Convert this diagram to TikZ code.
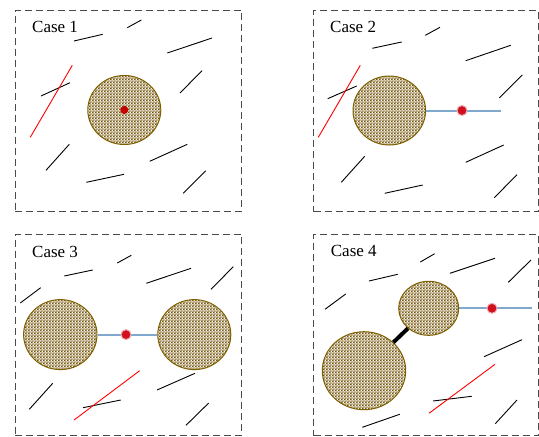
\documentclass[tikz,border=0pt]{standalone}
\usepackage{fontspec}
\setmainfont{Liberation Serif}
\usetikzlibrary{shapes.geometric,patterns}
\definecolor{grainbrown}{HTML}{76560C}
\definecolor{grainedge}{HTML}{7F6000}
\definecolor{bondblue}{HTML}{7FA8CC}
\definecolor{dotred}{HTML}{D0101E}
\definecolor{boxgray}{HTML}{4A4A4A}
\pgfdeclarepatternformonly{minibrick}{\pgfpointorigin}{\pgfpoint{3.2pt}{2.8pt}}{\pgfpoint{3.2pt}{2.8pt}}{%
  \pgfpathrectangle{\pgfpoint{0pt}{0pt}}{\pgfpoint{2.0pt}{1.3pt}}%
  \pgfpathrectangle{\pgfpoint{1.6pt}{1.4pt}}{\pgfpoint{1.6pt}{1.3pt}}%
  \pgfpathrectangle{\pgfpoint{0pt}{1.4pt}}{\pgfpoint{0.4pt}{1.3pt}}%
  \pgfusepath{fill}}
\tikzset{
  casebox/.style={draw=boxgray, line width=1.2pt, dash pattern=on 7pt off 4pt},
  caselabel/.style={anchor=west, inner sep=0pt, font=\fontsize{17}{17}\selectfont},
  crack/.style={draw=black, line width=0.9pt},
  redcrack/.style={draw=red, line width=0.9pt},
  grain/.style={ellipse, draw=grainedge, line width=1pt, pattern=minibrick, pattern color=grainbrown, inner sep=0pt},
  bond/.style={draw=bondblue, line width=2pt},
  reddot/.style={circle, fill=dotred, draw=dotred!35, line width=1pt, inner sep=0pt, minimum size=10pt},
  thickbar/.style={draw=black, line width=4pt}
}
\begin{document}
\begin{tikzpicture}[x=1pt,y=-1pt]
\useasboundingbox (0,0) rectangle (539,437);
% ---------- Case 1 ----------
\node[casebox, minimum width=226.5pt, minimum height=201.5pt, anchor=north west, inner sep=0pt] (b1) at (14.5,9.5) {};
\node[caselabel] (t1) at (32,26.5) {Case 1};
\draw[crack] (127.3,27.7) -- (141.3,20);
\draw[crack] (74,41) -- (102.7,34.3);
\draw[crack] (167.3,53) -- (212,38);
\draw[crack] (41,96) -- (70,82.7);
\draw[crack] (180,93) -- (202,70.7);
\draw[crack] (46,170.3) -- (69.3,144.3);
\draw[crack] (149.7,161.3) -- (187.3,144.3);
\draw[crack] (86.3,182.3) -- (124,174.3);
\draw[crack] (183.3,193.3) -- (205.7,170.7);
\draw[redcrack] (30.3,137.3) -- (72.3,65.3);
\node[grain, minimum width=73pt, minimum height=69pt] (g1) at (124.3,110) {};
\node[circle, fill=red!78!black, inner sep=0pt, minimum size=8pt] (d1) at (g1.center) {};
% ---------- Case 2 ----------
\node[casebox, minimum width=225pt, minimum height=201.5pt, anchor=north west, inner sep=0pt] (b2) at (313,9.5) {};
\node[caselabel] (t2) at (330,26.5) {Case 2};
\draw[crack] (425.3,35.3) -- (440,27.3);
\draw[crack] (372.3,48.3) -- (401.7,42);
\draw[crack] (465.7,60.7) -- (510.7,45.3);
\draw[crack] (327.7,98.7) -- (356.7,86);
\draw[crack] (499.3,98) -- (522.3,75);
\draw[crack] (341.3,182.3) -- (364.7,156.3);
\draw[crack] (465.7,162.3) -- (503.7,145);
\draw[crack] (384.7,193.3) -- (422.7,185);
\draw[crack] (494.3,197.7) -- (517,174.7);
\draw[redcrack] (318.3,137.3) -- (360.3,65.3);
\node[grain, minimum width=72.6pt, minimum height=69pt] (g2) at (389.3,110.5) {};
\coordinate (e2) at (501,110.5);
\draw[bond] (g2.east) -- (e2);
\node[reddot] (d2) at (462,110.5) {};
% ---------- Case 3 ----------
\node[casebox, minimum width=226.5pt, minimum height=201.5pt, anchor=north west, inner sep=0pt] (b3) at (14.5,233.5) {};
\node[caselabel] (t3) at (32,251.5) {Case 3};
\draw[crack] (117.3,263) -- (131.3,255.3);
\draw[crack] (64.3,276) -- (92.7,270);
\draw[crack] (146.3,283.3) -- (191,268.3);
\draw[crack] (211,289.3) -- (233.3,266.7);
\draw[crack] (20.3,303) -- (40.7,287.7);
\draw[crack] (29.3,409.3) -- (52.7,383.3);
\draw[crack] (157,390) -- (195,373.3);
\draw[crack] (83,407.7) -- (120.7,400);
\draw[crack] (186,425.3) -- (208.7,403);
\draw[redcrack] (74,420) -- (139.7,370.7);
\node[grain, minimum width=73.4pt, minimum height=70pt] (g3a) at (60.3,334.6) {};
\node[grain, minimum width=73pt, minimum height=70pt] (g3b) at (194.3,334.6) {};
\draw[bond] (g3a.east) -- (g3b.west);
\node[reddot] (d3) at (126,334.6) {};
% ---------- Case 4 ----------
\node[casebox, minimum width=225pt, minimum height=201.5pt, anchor=north west, inner sep=0pt] (b4) at (313,233.5) {};
\node[caselabel] (t4) at (330.7,251) {Case 4};
\draw[crack] (420.3,262) -- (434.7,253.7);
\draw[crack] (369,281) -- (397.7,274.3);
\draw[crack] (450,273.3) -- (495,258.3);
\draw[crack] (508.3,282.3) -- (531,260);
\draw[crack] (325,309.3) -- (345.7,294);
\draw[crack] (484,356.7) -- (522,339.7);
\draw[crack] (433,401) -- (471.7,396.3);
\draw[crack] (362.3,427.3) -- (399.7,414.3);
\draw[crack] (495.3,423.7) -- (517,400);
\draw[redcrack] (429,413.3) -- (495,364.3);
\node[grain, minimum width=60pt, minimum height=54pt] (g4s) at (428.7,308.3) {};
\node[grain, minimum width=83.4pt, minimum height=78pt] (g4b) at (364,370.7) {};
\draw[thickbar] (g4b) -- (g4s);
\coordinate (e4) at (531.7,308.3);
\draw[bond] (g4s.east) -- (e4);
\node[reddot] (d4) at (492,308.3) {};
\end{tikzpicture}
\end{document}
